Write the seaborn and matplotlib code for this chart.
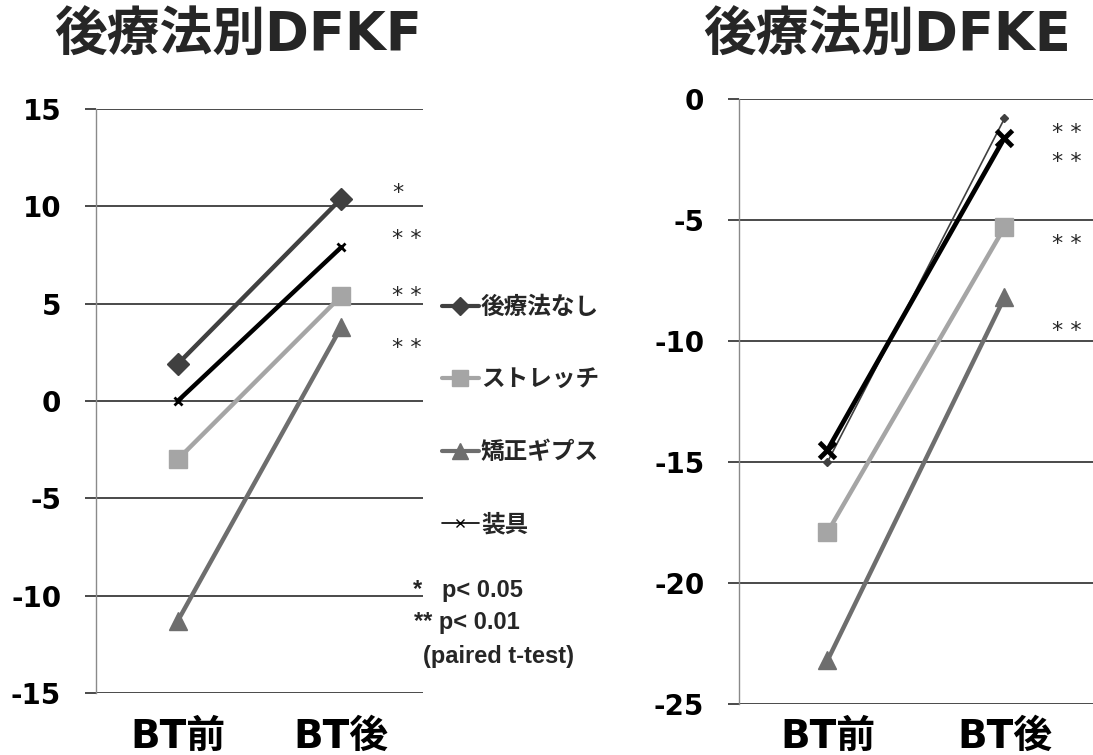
import matplotlib
matplotlib.use("Agg")
import matplotlib.pyplot as plt
from matplotlib.lines import Line2D
import pandas as pd
import seaborn as sns

# ---- data -----------------------------------------------------------------
phases = ["BT前", "BT後"]
groups = ["後療法なし", "ストレッチ", "矯正ギプス", "装具"]

dfkf_pre = [1.9, -3.0, -11.3, 0.0]
dfkf_post = [10.4, 5.4, 3.8, 7.9]

dfke_pre = [-15.0, -17.9, -23.2, -14.5]
dfke_post = [-0.8, -5.3, -8.2, -1.6]

dfkf_ticks = [15, 10, 5, 0, -5, -10, -15]
dfke_ticks = [0, -5, -10, -15, -20, -25]

dfkf_marks = ["*", "* *", "* *", "* *"]
dfke_marks = ["* *", "* *", "* *", "* *"]

note_lines = ["*   p< 0.05", "** p< 0.01", "(paired t-test)"]

# ---- styling ----------------------------------------------------------------
sns.set_theme(style="white")
plt.rcParams["font.family"] = ["DejaVu Sans", "Noto Sans CJK JP"]
CJK = ["DejaVu Sans", "Noto Sans CJK JP"]

GRID = "#3c3c3c"
colors = {"後療法なし": "#404040", "ストレッチ": "#a5a5a5",
          "矯正ギプス": "#6e6e6e", "装具": "#000000"}

# per-panel line/marker styles
kf_style = {
    "後療法なし": dict(lw=3.2, marker="D", ms=11, mew=1),
    "ストレッチ": dict(lw=3.2, marker="s", ms=13, mew=1),
    "矯正ギプス": dict(lw=3.2, marker="^", ms=13, mew=1),
    "装具": dict(lw=3.2, marker="x", ms=6, mew=2.0),
}
ke_style = {
    "後療法なし": dict(lw=1.2, marker="D", ms=4, mew=1),
    "ストレッチ": dict(lw=3.2, marker="s", ms=13, mew=1),
    "矯正ギプス": dict(lw=3.2, marker="^", ms=13, mew=1),
    "装具": dict(lw=3.4, marker="x", ms=11, mew=3.5),
}

fig = plt.figure(figsize=(10.93, 7.55), dpi=100)
ax1 = fig.add_axes([0.0878, 0.0821, 0.2992, 0.7735])
ax2 = fig.add_axes([0.6761, 0.0675, 0.3239, 0.8013])


def draw_panel(ax, pre, post, styles, ticks, ylim, xpad):
    for g, a, b in zip(groups, pre, post):
        st = styles[g]
        c = colors[g]
        df = pd.DataFrame({"phase": phases, "value": [a, b]})
        sns.lineplot(data=df, x="phase", y="value", ax=ax, color=c,
                     linewidth=st["lw"], marker=st["marker"],
                     markersize=st["ms"], markeredgewidth=st["mew"],
                     markeredgecolor=c, markerfacecolor=c,
                     sort=False, errorbar=None, legend=False, zorder=3)
    ax.set_xlim(-0.5, 1.5)
    ax.set_ylim(*ylim)
    ax.set_yticks(ticks)
    ax.set_yticklabels([str(t) for t in ticks])
    ax.set_xlabel("")
    ax.set_ylabel("")
    ax.grid(axis="y", color=GRID, linewidth=1.3, zorder=0)
    ax.grid(axis="x", visible=False)
    for s in ("top", "right", "bottom"):
        ax.spines[s].set_visible(False)
    ax.spines["left"].set_color("#8a8a8a")
    ax.spines["left"].set_linewidth(1.0)
    ax.tick_params(axis="y", left=True, length=8, width=1.3, color=GRID,
                   pad=17, labelsize=20, labelcolor="black")
    ax.tick_params(axis="x", bottom=False, pad=xpad, labelsize=28,
                   labelcolor="black")
    for lab in ax.get_yticklabels():
        lab.set_fontweight("bold")
        lab.set_family(CJK)
    for lab in ax.get_xticklabels():
        lab.set_fontweight("bold")
        lab.set_family(CJK)
    ax.set_facecolor("white")


draw_panel(ax1, dfkf_pre, dfkf_post, kf_style, dfkf_ticks, (-15, 15), 12)
draw_panel(ax2, dfke_pre, dfke_post, ke_style, dfke_ticks, (-25, 0), 4)

# significance marks beside the post-treatment points
for txt, y in zip(dfkf_marks, [10.7, 8.3, 5.4, 2.7]):
    ax1.text(0.905, y, txt, transform=ax1.get_yaxis_transform(),
             ha="left", va="center", fontsize=16, family="DejaVu Sans")
for txt, y in zip(dfke_marks, [-1.4, -2.6, -6.0, -9.6]):
    ax2.text(0.884, y, txt, transform=ax2.get_yaxis_transform(),
             ha="left", va="center", fontsize=16, family="DejaVu Sans")

# titles
fig.text(238 / 1093, 1 - 36 / 755, "後療法別DFKF", ha="center", va="center",
         fontsize=38, fontweight="bold", family=CJK)
fig.text(887 / 1093, 1 - 36 / 755, "後療法別DFKE", ha="center", va="center",
         fontsize=38, fontweight="bold", family=CJK)

# legend
handles = [
    Line2D([], [], color=colors["後療法なし"], lw=3, marker="D", ms=9,
           mec=colors["後療法なし"]),
    Line2D([], [], color=colors["ストレッチ"], lw=3, marker="s", ms=11,
           mec=colors["ストレッチ"]),
    Line2D([], [], color=colors["矯正ギプス"], lw=3, marker="^", ms=11,
           mec=colors["矯正ギプス"]),
    Line2D([], [], color=colors["装具"], lw=1.2, marker="x", ms=6, mew=1),
]
fig.legend(handles, groups, loc="upper left",
           bbox_to_anchor=(442 / 1093, 1 - 295 / 755), frameon=False,
           borderpad=0, borderaxespad=0, handlelength=1.55,
           handletextpad=0.1, labelspacing=2.05,
           prop={"family": "Noto Sans CJK JP", "weight": "bold", "size": 17})

# footnote
for (x, y), line in zip([(413, 590), (414, 623), (423, 657)], note_lines):
    fig.text(x / 1093, 1 - y / 755, line, ha="left", va="center",
             fontsize=17, fontweight="bold", family="Liberation Sans")

fig.savefig("out.png", dpi=100, facecolor="white")
